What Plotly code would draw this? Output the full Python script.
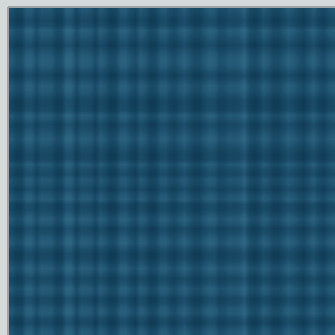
import plotly.graph_objects as go

# Fabric-like plaid texture: stripe intensities read across the picture
col_pos = list(range(10, 340, 5))
col_tone = [0.5, 0.2, 0.2, 0.7, 0.7, 0.3, 0.6, 0.6, 0.55, 0.2, 0.25, 0.8, 0.75, 0.25,
            0.6, 0.6, 0.5, 0.2, 0.65, 0.45, 0.15, 0.2, 0.65, 0.7, 0.4, 0.2, 0.65, 0.5,
            0.15, 0.2, 0.6, 0.65, 0.35, 0.25, 0.5, 0.7, 0.45, 0.2, 0.2, 0.5, 0.7, 0.65,
            0.3, 0.35, 0.55, 0.5, 0.6, 0.85, 0.35, 0.15, 0.3, 0.65, 0.5, 0.2, 0.2, 0.45,
            0.7, 0.55, 0.35, 0.15, 0.45, 0.7, 0.4, 0.2, 0.5, 0.65]

row_pos = list(range(10, 340, 5))
row_tone = [0.5, 0.35, 0.15, 0.3, 0.7, 0.55, 0.35, 0.15, 0.4, 0.6, 0.7, 0.65, 0.4, 0.15,
            0.4, 0.65, 0.6, 0.4, 0.15, 0.15, 0.25, 0.65, 0.5, 0.2, 0.35, 0.55, 0.7, 0.5,
            0.3, 0.15, 0.2, 0.6, 0.35, 0.2, 0.55, 0.45, 0.2, 0.5, 0.65, 0.2, 0.2, 0.45,
            0.7, 0.5, 0.2, 0.35, 0.6, 0.7, 0.4, 0.15, 0.2, 0.45, 0.7, 0.5, 0.2, 0.35,
            0.65, 0.55, 0.2, 0.3, 0.6, 0.65, 0.3, 0.15, 0.5, 0.65]

# weave: each cell is the sum of its row and column stripe tone
z = [[r + c for c in col_tone] for r in row_tone]

fig = go.Figure(go.Heatmap(
    x=col_pos,
    y=row_pos,
    z=z,
    zmin=0.3,
    zmax=1.5,
    zsmooth="best",
    colorscale=[[0, "#0f3a54"], [0.5, "#1b4d69"], [1, "#2e6682"]],
    showscale=False,
    hoverinfo="skip",
))

fig.update_layout(
    width=335,
    height=335,
    margin=dict(l=9, r=0, t=8, b=0),
    paper_bgcolor="#d5d9d9",
    plot_bgcolor="#1b4d69",
    xaxis=dict(visible=False, range=[7.5, 337.5]),
    yaxis=dict(visible=False, range=[337.5, 7.5]),
    shapes=[
        dict(type="line", xref="paper", yref="paper", x0=-0.003, x1=-0.003, y0=0, y1=1.003,
             line=dict(color="#9ea4a5", width=2)),
        dict(type="line", xref="paper", yref="paper", x0=-0.003, x1=1, y0=1.003, y1=1.003,
             line=dict(color="#9ea4a5", width=2)),
    ],
)

fig.write_html("out.html", config={"displayModeBar": False},
               post_script="document.body.style.margin='0';")
